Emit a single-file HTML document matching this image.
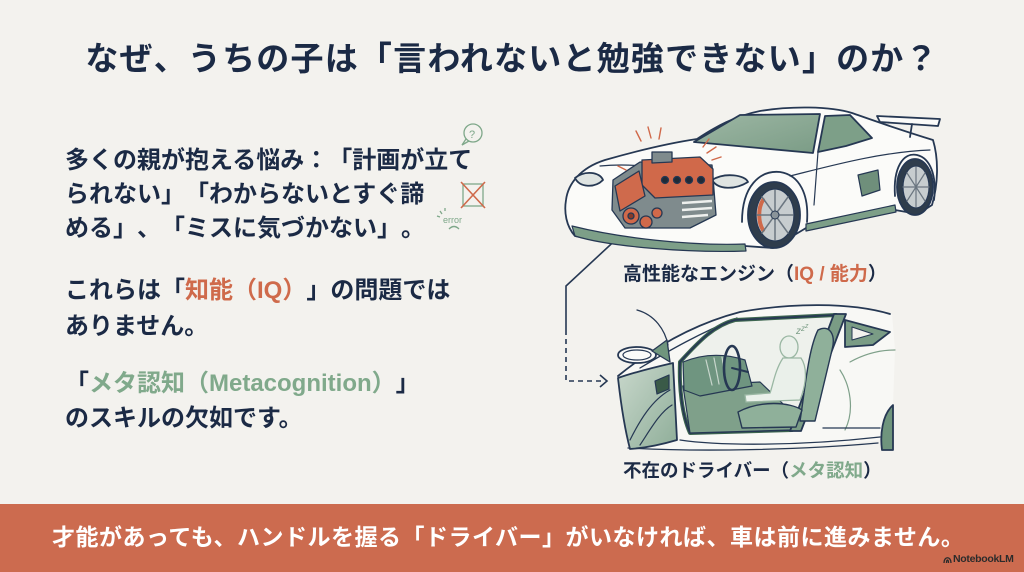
<!DOCTYPE html>
<html><head><meta charset="utf-8">
<style>
html,body{margin:0;padding:0;}
body{width:1024px;height:572px;overflow:hidden;background:#f3f2ee;position:relative;font-family:"Liberation Sans","Noto Sans CJK JP",sans-serif;text-spacing-trim:space-all;font-feature-settings:normal;}
.t{position:absolute;white-space:nowrap;font-weight:700;color:#1b2a45;text-spacing-trim:space-all;}
.title{left:0;width:1024px;text-align:center;top:39px;font-size:33px;line-height:40px;letter-spacing:1.2px;}
.l{left:65px;font-size:24px;line-height:36px;}
.o{color:#cf6a4b;}
.g{color:#80a98b;}
.lab{font-size:19px;line-height:24px;}
.banner{position:absolute;left:0;top:504px;width:1024px;height:68px;background:#cc6b4f;}
.bt{position:absolute;left:52px;top:522px;font-size:23px;line-height:30px;color:#fff;font-weight:700;white-space:nowrap;letter-spacing:0.5px;text-spacing-trim:space-all;}
.nb{position:absolute;left:953px;top:553px;font-size:10.5px;line-height:12px;color:#2b2b2b;font-weight:700;white-space:nowrap;letter-spacing:-0.3px;}
svg{position:absolute;left:0;top:0;}
</style></head><body>
<div class="banner"></div>
<svg width="1024" height="572" viewBox="0 0 1024 572">
<defs>
<linearGradient id="dg" x1="0" y1="0" x2="1" y2="1">
<stop offset="0" stop-color="#c9d8cc"/><stop offset="1" stop-color="#8fae99"/>
</linearGradient>
<linearGradient id="ws" x1="0" y1="0" x2="1" y2="1">
<stop offset="0" stop-color="#9db7a4"/><stop offset="1" stop-color="#7b9c86"/>
</linearGradient>
</defs>
<!-- left icons -->
<g stroke="#7fa88a" stroke-width="1.3" fill="none">
<circle cx="473" cy="133" r="9"/>
<path d="M466,139 L462,145 L469,141"/>
<rect x="463" y="184" width="20" height="22"/>
<path d="M440,211 L442,214 M437,216 L440,217 M445,208 L445,211"/>
<path d="M449,229 Q454,224 459,229"/>
</g>
<text x="469" y="138" font-size="11" fill="#7fa88a" font-family="Liberation Sans, sans-serif">?</text>
<g stroke="#cf6a4b" stroke-width="1.6"><path d="M461,182 L485,208 M485,182 L461,208"/></g>
<text x="443" y="223" font-size="9" fill="#7fa88a" font-family="Liberation Sans, sans-serif">error</text>

<!-- connector -->
<g stroke="#263853" stroke-width="1.6" fill="none">
<path d="M622,234 L566,286 L566,330"/>
<path d="M566,330 L566,381 L604,381" stroke-dasharray="5,4"/>
<path d="M600,375 L607,381 L600,387"/>
</g>

<!-- CAR 1 -->
<g stroke="#263853" stroke-width="1.8" stroke-linejoin="round" stroke-linecap="round">
<path d="M566,200 C568,184 580,168 605,160 C640,150 670,143 697,139 C715,127 735,116 760,111 C790,106 830,106 852,113 C872,120 900,130 933,140 C939,160 938,185 932,205 L918,214 L895,210 L806,228 L773,248 L745,246 C700,250 620,246 575,236 C566,226 564,212 566,200 Z" fill="#fbfbf9"/>
<path d="M572,226 C620,238 690,246 745,244 L746,251 C690,253 610,247 575,236 Z" fill="#7d9f88" stroke-width="1.2"/>
<path d="M806,224 L895,205 L896,212 L806,231 Z" fill="#7d9f88" stroke-width="1.2"/>
<path d="M694,142 L740,115 L820,114 L813,153 Z" fill="url(#ws)"/>
<path d="M825,116 L850,115 L872,138 L846,146 L818,152 Z" fill="#7d9f88"/>
<path d="M877,116 L940,119 L938,126 L880,122 Z" fill="#fbfbf9"/>
<path d="M912,124 L910,137" fill="none"/>
<path d="M790,176 C830,166 880,152 930,150" fill="none" stroke-width="1.2"/>
<path d="M818,152 L814,205" fill="none" stroke-width="1.2"/>
<path d="M600,166 C640,162 680,170 720,182" fill="none" stroke-width="1.2"/>
<path d="M575,178 C585,170 600,172 603,180 C595,188 580,188 575,178 Z" fill="#dfe4e2"/>
<path d="M712,180 C725,172 745,175 748,182 C735,190 718,190 712,180 Z" fill="#dfe4e2"/>
<path d="M858,175 L878,170 L880,190 L862,196 Z" fill="#6f8f7b" stroke-width="1.2"/>
<path d="M742,222 C742,186 760,170 780,172 C800,175 809,195 807,222" fill="none"/>
<ellipse cx="774" cy="215" rx="26" ry="33" fill="#2f3d4c"/>
<ellipse cx="775" cy="215" rx="19" ry="26" fill="#c7cdcf" stroke-width="1.2"/>
<path d="M763,200 C758,208 758,222 763,230" fill="none" stroke="#cf6a4b" stroke-width="4"/>
<g stroke="#6b7680" stroke-width="1.5"><path d="M775,190 L775,240 M757,215 L793,215 M762,197 L788,233 M788,197 L762,233"/></g>
<circle cx="775" cy="215" r="4" fill="#8a949a" stroke-width="1"/>
<path d="M895,196 C893,168 903,152 917,155 C930,158 937,175 934,200" fill="none"/>
<ellipse cx="915" cy="187" rx="18" ry="28" fill="#2f3d4c"/>
<ellipse cx="916" cy="187" rx="13" ry="21" fill="#c7cdcf" stroke-width="1.1"/>
<g stroke="#6b7680" stroke-width="1.2"><path d="M916,167 L916,207 M903,187 L929,187 M907,173 L925,201 M925,173 L907,201"/></g>
</g>
<!-- engine -->
<g stroke="#263853" stroke-width="1.3" stroke-linejoin="round">
<path d="M613,180 L640,162 L712,165 L716,215 L690,228 L625,228 L612,210 Z" fill="#7f8b8d"/>
<path d="M642,160 L700,157 L713,169 L713,195 L655,198 L642,185 Z" fill="#d0694a"/>
<path d="M652,152 L672,152 L672,162 L652,163 Z" fill="#7f8b8d"/>
<circle cx="665" cy="180" r="3.5" fill="#1f2a36"/>
<circle cx="677" cy="180" r="3.5" fill="#1f2a36"/>
<circle cx="689" cy="180" r="3.5" fill="#1f2a36"/>
<circle cx="701" cy="180" r="3.5" fill="#1f2a36"/>
<path d="M615,186 L639,171 L645,196 L620,211 Z" fill="#cf6a4c"/>
<path d="M682,203 L712,201 M682,210 L712,208 M682,217 L708,215" stroke="#eef0ee" stroke-width="2.5"/>
<circle cx="631" cy="216" r="8" fill="#d0694a"/>
<circle cx="631" cy="216" r="3" fill="#8a3a28"/>
<circle cx="646" cy="222" r="6" fill="#d0694a"/>
<circle cx="657" cy="213" r="5" fill="#d0694a"/>
</g>
<g stroke="#d0694a" stroke-width="1.4" stroke-linecap="round">
<path d="M636,131 L641,141 M648,127 L651,138 M661,128 L659,139 M707,153 L716,147 M712,160 L721,157 M703,147 L709,139 M618,166 L626,170"/>
</g>

<!-- CAR 2 -->
<g stroke="#263853" stroke-width="1.8" stroke-linejoin="round" stroke-linecap="round">
<path d="M618,376 C650,350 690,325 740,312 C790,303 850,302 892,314 L895,350 L893,405 C882,415 880,430 882,440 C800,448 700,450 630,449 C624,430 620,405 618,376 Z" fill="#f8f8f5" stroke="none"/>
<path d="M618,376 C650,350 690,325 740,312 C790,303 850,302 890,314" fill="none"/>
<path d="M640,368 C670,350 700,333 737,318" fill="none" stroke-width="1.3"/>
<path d="M637,310 C655,315 665,330 668,345" fill="none" stroke-width="1.3"/>
<path d="M680,362 C700,340 715,325 735,320 L836,315 L792,430 L690,433 C682,415 679,388 680,362 Z" fill="#eef1ec" stroke="#3d6650" stroke-width="4"/>
<path d="M680,362 C700,340 715,325 735,320 L836,315 L792,430 L690,433 C682,415 679,388 680,362 Z" fill="none"/>
<path d="M683,386 L760,382 L800,420 L792,430 L690,433 Z" fill="#7fa08a" stroke-width="1.2"/>
<path d="M683,362 C700,355 720,352 745,360 L752,386 L700,396 L684,390 Z" fill="#6f9580" stroke-width="1.2"/>
<path d="M706,360 L712,385 M714,358 L719,384 M722,357 L726,382" stroke="#c8d6cc" stroke-width="1.2" fill="none"/>
<path d="M834,314 L846,314 L801,431 L790,431 Z" fill="#7a9c85"/>
<path d="M845,320 L890,332 L873,345 L845,347 Z" fill="#7a9c85"/>
<path d="M852,327 L873,334 L852,340 Z" fill="#f3f2ee" stroke-width="1"/>
<path d="M850,362 C868,352 885,350 895,350" fill="none" stroke="#7fa08a" stroke-width="1.2"/>
<path d="M840,370 C850,385 855,410 845,430" fill="none" stroke="#7fa08a" stroke-width="1.2"/>
<path d="M893,405 C882,415 880,435 882,450 L893,450 Z" fill="#6f957d"/>
<path d="M823,428 L880,428" fill="none" stroke-width="1.3"/>
<path d="M680,440 C720,446 800,446 880,437" fill="none" stroke-width="1.3"/>
<path d="M628,448 C700,452 800,450 878,443" fill="none" stroke-width="1.3"/>
<path d="M618,378 C635,372 660,366 673,363 L677,440 C660,445 645,448 630,449 C625,430 621,405 618,378 Z" fill="url(#dg)"/>
<path d="M630,440 C640,420 652,400 670,390 M640,445 C650,430 660,412 672,405" fill="none" stroke-width="1.2"/>
<path d="M655,381 L669,375 L669,389 L657,394 Z" fill="#3a5a48" stroke-width="1.2"/>
<ellipse cx="637" cy="355" rx="19" ry="8" fill="#fbfbf9"/>
<ellipse cx="637" cy="355" rx="14" ry="5" fill="none" stroke-width="1.2"/>
<path d="M652,351 L667,340 L670,362 Z" fill="#6f957d" stroke-width="1.3"/>
<ellipse cx="732" cy="368" rx="8" ry="22" fill="none" stroke-width="2.6"/>
<path d="M732,368 L748,372" fill="none" stroke-width="2"/>
<path d="M818,330 C830,324 836,335 832,350 L815,421 L800,421 C805,390 808,350 818,330 Z" fill="#8fb09a" stroke-width="1.4"/>
<path d="M738,412 C760,400 790,402 802,410 L796,427 L742,428 Z" fill="#8fb09a" stroke-width="1.4"/>
</g>
<g stroke="#9ab7a3" stroke-width="1.3" fill="#eaf0ea">
<ellipse cx="789" cy="347" rx="9" ry="11"/>
<path d="M783,358 C775,370 773,385 770,393 L745,395 L746,402 L800,400 C806,385 808,368 801,358 Z"/>
</g>
<text x="796" y="334" font-size="10" fill="#7fa08a" font-family="Liberation Sans, sans-serif" font-style="italic">z<tspan font-size="8" dy="-3">z</tspan><tspan font-size="7" dy="-3">z</tspan></text>
<!-- notebooklm icon -->
<path d="M944,563 C944,556 951,556 951,563 M946.5,563 C946.5,559 948.5,559 948.5,563" stroke="#2b2b2b" stroke-width="1.3" fill="none"/>
</svg>

<div class="t title">なぜ、うちの子は「言われないと勉強できない」のか？</div>

<div class="t l" style="top:143px">多くの親が抱える悩み：「計画が立て</div>
<div class="t l" style="top:177px">られない」「わからないとすぐ諦</div>
<div class="t l" style="top:211px">める」、「ミスに気づかない」。</div>
<div class="t l" style="top:273px">これらは「<span class="o">知能（IQ）</span>」の問題では</div>
<div class="t l" style="top:309px">ありません。</div>
<div class="t l" style="top:366px">「<span class="g">メタ認知（Metacognition）</span>」</div>
<div class="t l" style="top:401px">のスキルの欠如です。</div>

<div class="t lab" style="left:623px;top:263px;">高性能なエンジン（<span class="o">IQ / 能力</span>）</div>
<div class="t lab" style="left:623px;top:459px;font-size:18.5px;">不在のドライバー（<span class="g">メタ認知</span>）</div>

<div class="bt">才能があっても、ハンドルを握る「ドライバー」がいなければ、車は前に進みません。</div>
<div class="nb">NotebookLM</div>
</body></html>
